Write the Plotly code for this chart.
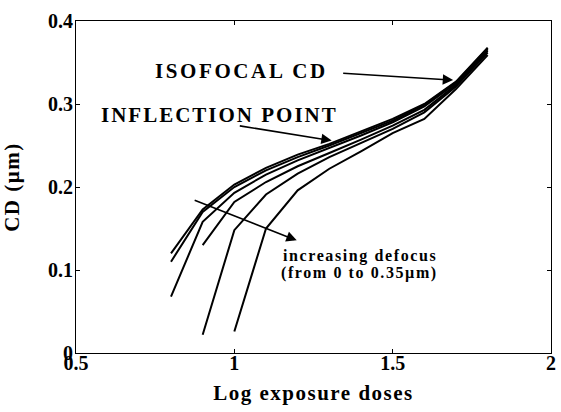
import plotly.graph_objects as go

# Log exposure dose (x) and CD in µm for increasing defocus (0 -> 0.35 µm)
log_dose = [0.8, 0.9, 1.0, 1.1, 1.2, 1.3, 1.4, 1.5, 1.6, 1.7, 1.8]
cd_defocus_0 = [0.120, 0.173, 0.203, 0.223, 0.239, 0.252, 0.267, 0.282, 0.300, 0.327, 0.368]
cd_defocus_1 = [0.110, 0.170, 0.200, 0.220, 0.236, 0.250, 0.265, 0.280, 0.299, 0.326, 0.367]
cd_defocus_2 = [0.068, 0.158, 0.193, 0.215, 0.232, 0.247, 0.262, 0.278, 0.297, 0.325, 0.366]
cd_defocus_3 = [None, 0.130, 0.182, 0.206, 0.225, 0.241, 0.257, 0.274, 0.293, 0.323, 0.364]
cd_defocus_4 = [None, 0.022, 0.148, 0.191, 0.216, 0.236, 0.253, 0.270, 0.290, 0.321, 0.362]
cd_defocus_5 = [None, None, 0.026, 0.150, 0.196, 0.222, 0.243, 0.265, 0.282, 0.318, 0.359]

x_ticks = [0.5, 1, 1.5, 2]
x_tick_labels = ["0.5", "1", "1.5", "2"]
y_ticks = [0, 0.1, 0.2, 0.3, 0.4]
y_tick_labels = ["0", "0.1", "0.2", "0.3", "0.4"]

series = [cd_defocus_0, cd_defocus_1, cd_defocus_2, cd_defocus_3, cd_defocus_4, cd_defocus_5]

FONT = "Liberation Serif"

fig = go.Figure()
for s in series:
    fig.add_trace(go.Scatter(x=log_dose, y=s, mode="lines",
                             line=dict(color="black", width=2),
                             connectgaps=False, showlegend=False))

def txt(s, sp):
    return f'<span style="letter-spacing:{sp}px"><b>{s}</b></span>'

annotations = [
    dict(x=1.691, y=0.3288, ax=1.339, ay=0.3372, xref="x", yref="y", axref="x", ayref="y",
         text="", showarrow=True, arrowhead=2, arrowsize=1.3, arrowwidth=1.6, arrowcolor="black"),
    dict(x=1.3075, y=0.2559, ax=1.0125, ay=0.2739, xref="x", yref="y", axref="x", ayref="y",
         text="", showarrow=True, arrowhead=2, arrowsize=1.3, arrowwidth=1.6, arrowcolor="black"),
    dict(x=1.197, y=0.1357, ax=0.870, ay=0.1846, xref="x", yref="y", axref="x", ayref="y",
         text="", showarrow=True, arrowhead=2, arrowsize=1.3, arrowwidth=1.6, arrowcolor="black"),
    dict(x=1.0226, y=0.340, xref="x", yref="y", text=txt("ISOFOCAL CD", 2.6), showarrow=False,
         font=dict(family=FONT, size=21, color="black")),
    dict(x=0.9516, y=0.2871, xref="x", yref="y", text=txt("INFLECTION POINT", 2), showarrow=False,
         font=dict(family=FONT, size=21, color="black")),
    dict(x=1.398, y=0.1165, xref="x", yref="y", text=txt("increasing defocus", 1.6), showarrow=False,
         font=dict(family=FONT, size=16, color="black")),
    dict(x=1.3937, y=0.0965, xref="x", yref="y", text=txt("(from 0 to 0.35µm)", 1.6), showarrow=False,
         font=dict(family=FONT, size=16, color="black")),
]

fig.update_layout(
    width=561, height=412,
    margin=dict(l=76, r=10, t=21, b=59),
    paper_bgcolor="white", plot_bgcolor="white",
    font=dict(family=FONT, size=20, color="black"),
    annotations=annotations,
    xaxis=dict(range=[0.5, 2], tickvals=x_ticks, ticktext=[f"<b>{t}</b>" for t in x_tick_labels],
               ticks="inside", ticklen=4, tickcolor="black", showline=True, linecolor="black",
               linewidth=1, mirror="allticks", showgrid=False, zeroline=False, automargin=False,
               ticklabelstandoff=-8,
               title=dict(text=txt("Log exposure doses", 1.5), font=dict(size=21), standoff=12)),
    yaxis=dict(range=[0, 0.4], tickvals=y_ticks, ticktext=[f"<b>{t}</b>" for t in y_tick_labels],
               ticks="inside", ticklen=4, tickcolor="black", showline=True, linecolor="black",
               linewidth=1, mirror="allticks", showgrid=False, zeroline=False, automargin=False,
               ticklabelstandoff=-2,
               title=dict(text=txt("CD (µm)", 1.5), font=dict(size=21), standoff=22)),
)

fig.write_html("out.html", config={"displayModeBar": False},
               post_script="document.body.style.margin='0';document.body.style.overflow='hidden';")
